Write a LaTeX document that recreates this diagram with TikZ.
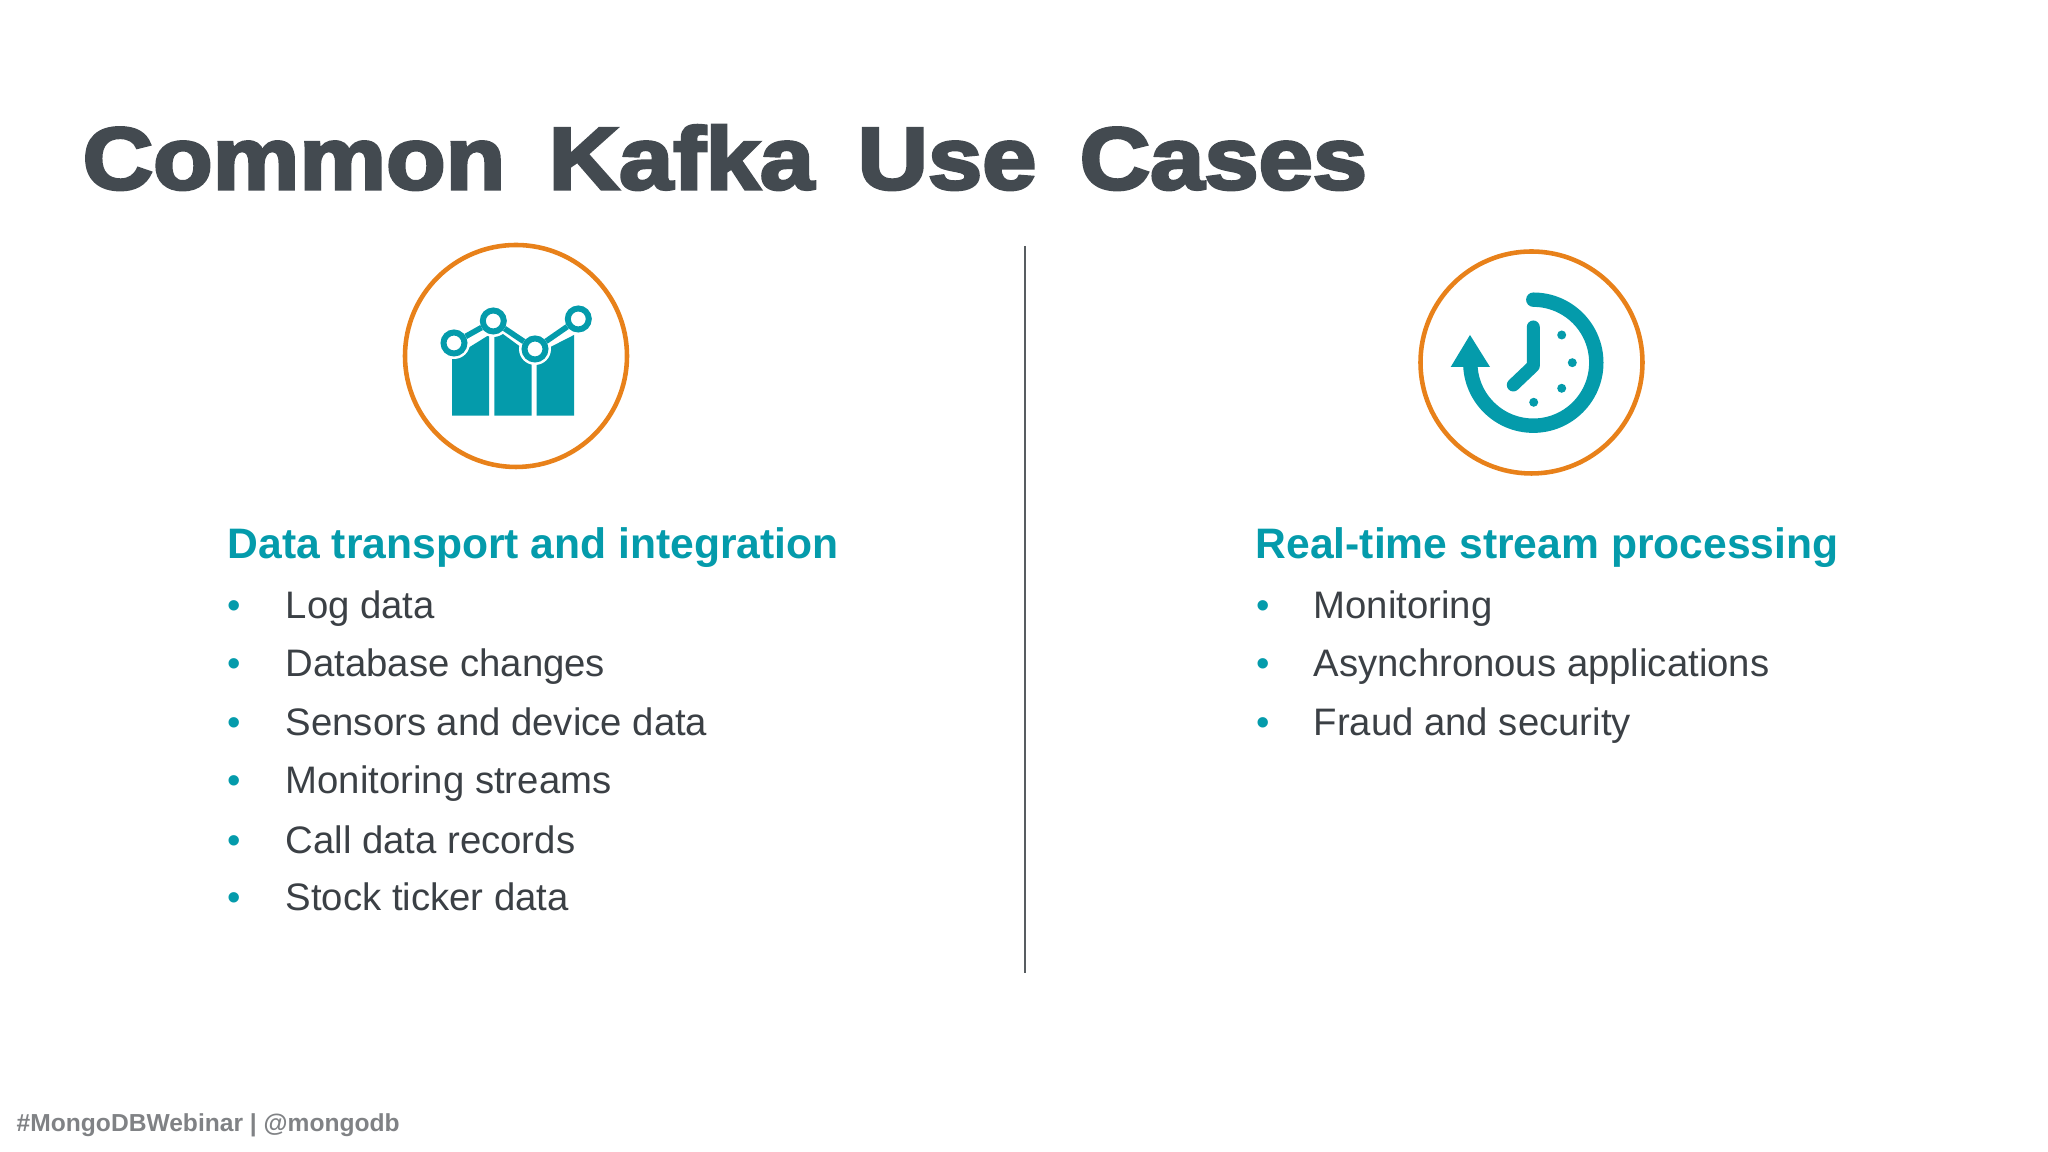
\documentclass[tikz,border=0pt]{standalone}
\usepackage{fontspec}
\setmainfont{Liberation Sans}
\newfontfamily\titlefont[UprightFont={* Bold},FakeBold=3.6,FakeStretch=1.11,WordSpace=1.6]{Liberation Sans}
\definecolor{kteal}{HTML}{049BAB}
\definecolor{korange}{HTML}{E8811A}
\definecolor{ktitle}{HTML}{434A50}
\definecolor{kbody}{HTML}{3B4045}
\definecolor{kfoot}{HTML}{808285}
\tikzset{
    ring/.style={draw=korange, line width=1.3pt, circle, minimum size=2.22cm, inner sep=0pt},
    marker/.style={draw=kteal, fill=white, line width=1.7pt, circle, minimum size=0.21cm, inner sep=0pt},
    halo/.style={fill=white, circle, minimum size=0.32cm, inner sep=0pt},
    dot/.style={fill=kteal, circle, minimum size=0.09cm, inner sep=0pt},
    heading/.style={anchor=base west, inner sep=0pt, text=kteal, font=\fontsize{12.13}{14}\selectfont\bfseries},
    item/.style={anchor=base west, inner sep=0pt, text=kbody, font=\fontsize{10.9}{14}\selectfont},
    bullet/.style={anchor=base, inner sep=0pt, text=kteal, font=\fontsize{10.9}{14}\selectfont}
}
\begin{document}
\begin{tikzpicture}
    \useasboundingbox (0, 0) rectangle (20.48, 11.52);

    % title and footer
    \node[anchor=base west, inner sep=0pt, text=ktitle, font=\fontsize{25}{30}\titlefont] (title) at (0.82, 9.63) {Common Kafka Use Cases};
    \node[anchor=base west, inner sep=0pt, text=kfoot, font=\fontsize{7}{8}\selectfont\bfseries] (foot) at (0.16, 0.2) {\#MongoDBWebinar | @mongodb};

    % divider
    \coordinate (top) at (10.25, 9.06);
    \coordinate (bot) at (10.25, 1.79);
    \draw[kbody!85!white, line width=0.4pt] (top) -- (bot);

    % left icon
    \node[ring] (chart) at (5.16, 7.96) {};
    \fill[kteal] (4.52, 7.363) -- (4.52, 7.94) -- (4.89, 8.17) -- (4.89, 7.363) -- cycle;
    \fill[kteal] (4.943, 7.363) -- (4.943, 8.153) -- (5.02, 8.187) -- (5.22, 8.04) -- (5.317, 7.97) -- (5.317, 7.363) -- cycle;
    \fill[kteal] (5.367, 7.363) -- (5.367, 7.98) -- (5.74, 8.17) -- (5.74, 7.363) -- cycle;
    \node[halo] at (4.54, 8.09) {};
    \node[halo] at (4.933, 8.31) {};
    \node[halo] at (5.35, 8.03) {};
    \node[marker] (p1) at (4.54, 8.09) {};
    \node[marker] (p2) at (4.933, 8.31) {};
    \node[marker] (p3) at (5.35, 8.03) {};
    \node[marker] (p4) at (5.783, 8.33) {};
    \draw[kteal, line width=1.6pt] (p1) -- (p2);
    \draw[kteal, line width=1.6pt] (p2) -- (p3);
    \draw[kteal, line width=1.6pt] (p3) -- (p4);

    % right icon
    \node[ring] (clock) at (15.315, 7.895) {};
    \draw[kteal, line width=4.1pt, line cap=round] (15.333, 8.523) arc (90:-180:0.63);
    \fill[kteal] (14.70, 8.17) -- (14.507, 7.85) -- (14.90, 7.85) -- cycle;
    \draw[kteal, line width=3.7pt, line cap=round, line join=round] (15.333, 8.25) -- (15.333, 7.86) -- (15.133, 7.67);
    \node[dot] at (15.617, 8.17) {};
    \node[dot] at (15.723, 7.893) {};
    \node[dot] at (15.617, 7.637) {};
    \node[dot] at (15.337, 7.497) {};

    % left column
    \node[heading] (head1) at (2.27, 5.93) {Data transport and integration};
    \node[bullet] (b1) at (2.34, 5.33) {•};
    \node[bullet] (b2) at (2.34, 4.75) {•};
    \node[bullet] (b3) at (2.34, 4.16) {•};
    \node[bullet] (b4) at (2.34, 3.58) {•};
    \node[bullet] (b5) at (2.34, 2.98) {•};
    \node[bullet] (b6) at (2.34, 2.41) {•};
    \node[item] (t1) at (2.85, 5.33) {Log data};
    \node[item] (t2) at (2.85, 4.75) {Database changes};
    \node[item] (t3) at (2.85, 4.16) {Sensors and device data};
    \node[item] (t4) at (2.85, 3.58) {Monitoring streams};
    \node[item] (t5) at (2.85, 2.98) {Call data records};
    \node[item] (t6) at (2.85, 2.41) {Stock ticker data};

    % right column
    \node[heading] (head2) at (12.55, 5.93) {Real-time stream processing};
    \node[bullet] (c1) at (12.63, 5.33) {•};
    \node[bullet] (c2) at (12.63, 4.75) {•};
    \node[bullet] (c3) at (12.63, 4.16) {•};
    \node[item] (u1) at (13.13, 5.33) {Monitoring};
    \node[item] (u2) at (13.13, 4.75) {Asynchronous applications};
    \node[item] (u3) at (13.13, 4.16) {Fraud and security};
\end{tikzpicture}
\end{document}
